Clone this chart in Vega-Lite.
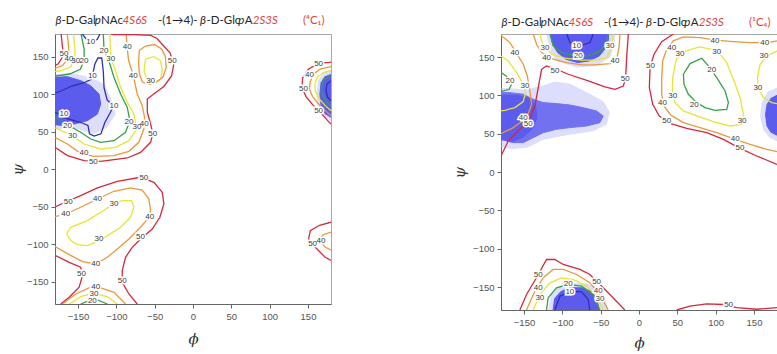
{
  "$schema": "https://vega.github.io/schema/vega-lite/v6.json",
  "background": "white",
  "padding": {"left": 10, "top": 14, "right": 0, "bottom": 0},
  "spacing": 120,
  "config": {
    "view": {"stroke": "#a8a8a8", "strokeWidth": 1},
    "axis": {
      "grid": false,
      "domainColor": "#666",
      "tickColor": "#666",
      "tickSize": 4,
      "labelColor": "#555",
      "labelFont": "Liberation Sans",
      "labelFontSize": 9.5,
      "labelPadding": 3,
      "titleFont": "DejaVu Serif",
      "titleFontStyle": "italic",
      "titleFontWeight": "normal",
      "titleFontSize": 15,
      "titleColor": "#333"
    },
    "text": {"font": "Liberation Sans"}
  },
  "datasets": {
    "titles": [
      {"panel": "L", "part": "prefix", "label": "β", "phi": -179.5},
      {"panel": "L", "part": "name", "label": "-D-Gal", "phi": -171.5},
      {"panel": "L", "part": "prefix", "label": "p", "phi": -128.3},
      {"panel": "L", "part": "name", "label": "NAc", "phi": -120},
      {"panel": "L", "part": "sulfate", "label": "4S6S", "phi": -91.8},
      {"panel": "L", "part": "name", "label": "-(1→4)-", "phi": -45.7},
      {"panel": "L", "part": "prefix", "label": "β", "phi": 9.1},
      {"panel": "L", "part": "name", "label": "-D-Glc", "phi": 17.6},
      {"panel": "L", "part": "prefix", "label": "p", "phi": 59.1},
      {"panel": "L", "part": "name", "label": "A", "phi": 67.6},
      {"panel": "L", "part": "sulfate", "label": "2S3S", "phi": 77.9},
      {"panel": "L", "part": "conformer", "label": "(⁴C₁)", "phi": 143.5},
      {"panel": "R", "part": "prefix", "label": "β", "phi": -179.5},
      {"panel": "R", "part": "name", "label": "-D-Gal", "phi": -171.5},
      {"panel": "R", "part": "prefix", "label": "p", "phi": -128.3},
      {"panel": "R", "part": "name", "label": "NAc", "phi": -120},
      {"panel": "R", "part": "sulfate", "label": "4S6S", "phi": -91.8},
      {"panel": "R", "part": "name", "label": "-(1→4)-", "phi": -45.7},
      {"panel": "R", "part": "prefix", "label": "β", "phi": 9.1},
      {"panel": "R", "part": "name", "label": "-D-Glc", "phi": 17.6},
      {"panel": "R", "part": "prefix", "label": "p", "phi": 59.1},
      {"panel": "R", "part": "name", "label": "A", "phi": 67.6},
      {"panel": "R", "part": "sulfate", "label": "2S3S", "phi": 77.9},
      {"panel": "R", "part": "conformer", "label": "(¹C₄)", "phi": 143.5}
    ],
    "left_halo": [
      {"cloud": "w", "phi": -180, "psi": 126.7}, {"cloud": "w", "phi": -155.2, "psi": 127}, {"cloud": "w", "phi": -133.5, "psi": 122.2}, {"cloud": "w", "phi": -116.1, "psi": 113.3}, {"cloud": "w", "phi": -107.4, "psi": 95.5}, {"cloud": "w", "phi": -100.9, "psi": 73.3}, {"cloud": "w", "phi": -111.7, "psi": 55.6}, {"cloud": "w", "phi": -129.2, "psi": 46.7}, {"cloud": "w", "phi": -150.8, "psi": 53.3}, {"cloud": "w", "phi": -180, "psi": 53.3},
      {"cloud": "e", "phi": 180, "psi": 132}, {"cloud": "e", "phi": 170, "psi": 128}, {"cloud": "e", "phi": 163, "psi": 118}, {"cloud": "e", "phi": 161, "psi": 100}, {"cloud": "e", "phi": 163, "psi": 82}, {"cloud": "e", "phi": 170, "psi": 70}, {"cloud": "e", "phi": 180, "psi": 64}
    ],
    "left_core": [
      {"cloud": "w", "phi": -180, "psi": 122.2}, {"cloud": "w", "phi": -163.8, "psi": 123.1}, {"cloud": "w", "phi": -146.5, "psi": 117.8}, {"cloud": "w", "phi": -133.5, "psi": 111.1}, {"cloud": "w", "phi": -122.6, "psi": 100}, {"cloud": "w", "phi": -120.4, "psi": 86.7}, {"cloud": "w", "phi": -124.7, "psi": 73.3}, {"cloud": "w", "phi": -137.8, "psi": 64.5}, {"cloud": "w", "phi": -155.2, "psi": 60}, {"cloud": "w", "phi": -168.2, "psi": 57.8}, {"cloud": "w", "phi": -180, "psi": 59.1},
      {"cloud": "e", "phi": 180, "psi": 126}, {"cloud": "e", "phi": 172, "psi": 123}, {"cloud": "e", "phi": 167, "psi": 115}, {"cloud": "e", "phi": 165.5, "psi": 100}, {"cloud": "e", "phi": 167, "psi": 85}, {"cloud": "e", "phi": 172, "psi": 74}, {"cloud": "e", "phi": 180, "psi": 69}
    ],
    "left_contours": [
      {"id": "a", "level": 10, "phi": -144.3, "psi": 180}, {"id": "a", "level": 10, "phi": -137.8, "psi": 171}, {"id": "a", "level": 10, "phi": -131.3, "psi": 169}, {"id": "a", "level": 10, "phi": -124.8, "psi": 173}, {"id": "a", "level": 10, "phi": -121.4, "psi": 180},
      {"id": "b", "level": 10, "phi": -180, "psi": 101}, {"id": "b", "level": 10, "phi": -172, "psi": 104}, {"id": "b", "level": 10, "phi": -160, "psi": 110}, {"id": "b", "level": 10, "phi": -142, "psi": 115}, {"id": "b", "level": 10, "phi": -132, "psi": 120}, {"id": "b", "level": 10, "phi": -128, "psi": 140}, {"id": "b", "level": 10, "phi": -124, "psi": 148}, {"id": "b", "level": 10, "phi": -119, "psi": 148}, {"id": "b", "level": 10, "phi": -117, "psi": 130}, {"id": "b", "level": 10, "phi": -116, "psi": 108}, {"id": "b", "level": 10, "phi": -112, "psi": 92}, {"id": "b", "level": 10, "phi": -104, "psi": 84}, {"id": "b", "level": 10, "phi": -108, "psi": 75}, {"id": "b", "level": 10, "phi": -115, "psi": 62}, {"id": "b", "level": 10, "phi": -120, "psi": 47}, {"id": "b", "level": 10, "phi": -129, "psi": 44}, {"id": "b", "level": 10, "phi": -135, "psi": 47}, {"id": "b", "level": 10, "phi": -137, "psi": 58}, {"id": "b", "level": 10, "phi": -146, "psi": 62}, {"id": "b", "level": 10, "phi": -164, "psi": 67}, {"id": "b", "level": 10, "phi": -172, "psi": 71}, {"id": "b", "level": 10, "phi": -180, "psi": 76},
      {"id": "c", "level": 20, "phi": -146, "psi": 180}, {"id": "c", "level": 20, "phi": -142, "psi": 160}, {"id": "c", "level": 20, "phi": -142, "psi": 145}, {"id": "c", "level": 20, "phi": -147, "psi": 133}, {"id": "c", "level": 20, "phi": -160, "psi": 127}, {"id": "c", "level": 20, "phi": -172, "psi": 125}, {"id": "c", "level": 20, "phi": -180, "psi": 124},
      {"id": "d", "level": 30, "phi": -156, "psi": 180}, {"id": "d", "level": 30, "phi": -154, "psi": 160}, {"id": "d", "level": 30, "phi": -154, "psi": 146}, {"id": "d", "level": 30, "phi": -160, "psi": 136}, {"id": "d", "level": 30, "phi": -172, "psi": 131}, {"id": "d", "level": 30, "phi": -180, "psi": 130},
      {"id": "e", "level": 40, "phi": -164, "psi": 180}, {"id": "e", "level": 40, "phi": -162, "psi": 160}, {"id": "e", "level": 40, "phi": -163, "psi": 147}, {"id": "e", "level": 40, "phi": -170, "psi": 138}, {"id": "e", "level": 40, "phi": -180, "psi": 134},
      {"id": "f", "level": 50, "phi": -172, "psi": 180}, {"id": "f", "level": 50, "phi": -170, "psi": 160}, {"id": "f", "level": 50, "phi": -171, "psi": 148}, {"id": "f", "level": 50, "phi": -176, "psi": 140}, {"id": "f", "level": 50, "phi": -180, "psi": 138},
      {"id": "g", "level": 20, "phi": -180, "psi": 69}, {"id": "g", "level": 20, "phi": -164, "psi": 59}, {"id": "g", "level": 20, "phi": -146.5, "psi": 49}, {"id": "g", "level": 20, "phi": -133.5, "psi": 40}, {"id": "g", "level": 20, "phi": -120.4, "psi": 35.6}, {"id": "g", "level": 20, "phi": -103, "psi": 37.8}, {"id": "g", "level": 20, "phi": -88, "psi": 49}, {"id": "g", "level": 20, "phi": -82.3, "psi": 64.5}, {"id": "g", "level": 20, "phi": -85.7, "psi": 82}, {"id": "g", "level": 20, "phi": -94.4, "psi": 100}, {"id": "g", "level": 20, "phi": -103, "psi": 122}, {"id": "g", "level": 20, "phi": -110, "psi": 145}, {"id": "g", "level": 20, "phi": -116, "psi": 158}, {"id": "g", "level": 20, "phi": -117, "psi": 180},
      {"id": "h", "level": 30, "phi": -180, "psi": 55}, {"id": "h", "level": 30, "phi": -157.3, "psi": 44.5}, {"id": "h", "level": 30, "phi": -142.2, "psi": 33.3}, {"id": "h", "level": 30, "phi": -120.4, "psi": 26.7}, {"id": "h", "level": 30, "phi": -101, "psi": 28.9}, {"id": "h", "level": 30, "phi": -83.6, "psi": 37.8}, {"id": "h", "level": 30, "phi": -73.6, "psi": 53.3}, {"id": "h", "level": 30, "phi": -77.1, "psi": 73.3}, {"id": "h", "level": 30, "phi": -85.7, "psi": 88.9}, {"id": "h", "level": 30, "phi": -94.4, "psi": 108.9}, {"id": "h", "level": 30, "phi": -101, "psi": 131}, {"id": "h", "level": 30, "phi": -107, "psi": 147}, {"id": "h", "level": 30, "phi": -108, "psi": 166}, {"id": "h", "level": 30, "phi": -108.5, "psi": 180},
      {"id": "i", "level": 40, "phi": -180, "psi": 42}, {"id": "i", "level": 40, "phi": -163.8, "psi": 33.3}, {"id": "i", "level": 40, "phi": -146.5, "psi": 20.9}, {"id": "i", "level": 40, "phi": -129.2, "psi": 16.9}, {"id": "i", "level": 40, "phi": -103.1, "psi": 17.8}, {"id": "i", "level": 40, "phi": -83.6, "psi": 23.6}, {"id": "i", "level": 40, "phi": -70.6, "psi": 35.6}, {"id": "i", "level": 40, "phi": -64.1, "psi": 53.3}, {"id": "i", "level": 40, "phi": -63.2, "psi": 68.9}, {"id": "i", "level": 40, "phi": -66.2, "psi": 84.5}, {"id": "i", "level": 40, "phi": -72.7, "psi": 100}, {"id": "i", "level": 40, "phi": -78, "psi": 125}, {"id": "i", "level": 40, "phi": -84, "psi": 145}, {"id": "i", "level": 40, "phi": -86, "psi": 162}, {"id": "i", "level": 40, "phi": -87, "psi": 180},
      {"id": "j", "level": 50, "phi": -180, "psi": 29}, {"id": "j", "level": 50, "phi": -163.8, "psi": 17.8}, {"id": "j", "level": 50, "phi": -142.2, "psi": 11.1}, {"id": "j", "level": 50, "phi": -120.4, "psi": 10.2}, {"id": "j", "level": 50, "phi": -85.7, "psi": 14.7}, {"id": "j", "level": 50, "phi": -68.4, "psi": 22.2}, {"id": "j", "level": 50, "phi": -55.3, "psi": 35.6}, {"id": "j", "level": 50, "phi": -52.4, "psi": 47.5}, {"id": "j", "level": 50, "phi": -55.3, "psi": 60}, {"id": "j", "level": 50, "phi": -59.6, "psi": 75.6}, {"id": "j", "level": 50, "phi": -59.6, "psi": 93.3}, {"id": "j", "level": 50, "phi": -50, "psi": 101}, {"id": "j", "level": 50, "phi": -38, "psi": 110}, {"id": "j", "level": 50, "phi": -28, "psi": 124}, {"id": "j", "level": 50, "phi": -25, "psi": 140}, {"id": "j", "level": 50, "phi": -30, "psi": 155}, {"id": "j", "level": 50, "phi": -40, "psi": 166}, {"id": "j", "level": 50, "phi": -47, "psi": 174}, {"id": "j", "level": 50, "phi": -55, "psi": 178.2}, {"id": "j", "level": 50, "phi": -77, "psi": 179.2}, {"id": "j", "level": 50, "phi": -103, "psi": 179.2}, {"id": "j", "level": 50, "phi": -107.4, "psi": 180},
      {"id": "k", "level": 30, "phi": -61.8, "psi": 146.7}, {"id": "k", "level": 30, "phi": -51, "psi": 149.8}, {"id": "k", "level": 30, "phi": -42.3, "psi": 144.5}, {"id": "k", "level": 30, "phi": -40.1, "psi": 131.1}, {"id": "k", "level": 30, "phi": -42.3, "psi": 120}, {"id": "k", "level": 30, "phi": -51, "psi": 115.6}, {"id": "k", "level": 30, "phi": -59.6, "psi": 117.8}, {"id": "k", "level": 30, "phi": -63.9, "psi": 131.1}, {"id": "k", "level": 30, "phi": -61.8, "psi": 146.7},
      {"id": "l", "level": 40, "phi": -70, "psi": 158}, {"id": "l", "level": 40, "phi": -62, "psi": 164}, {"id": "l", "level": 40, "phi": -50, "psi": 166}, {"id": "l", "level": 40, "phi": -41, "psi": 160}, {"id": "l", "level": 40, "phi": -36, "psi": 150}, {"id": "l", "level": 40, "phi": -35, "psi": 135}, {"id": "l", "level": 40, "phi": -39, "psi": 123}, {"id": "l", "level": 40, "phi": -47, "psi": 116}, {"id": "l", "level": 40, "phi": -57, "psi": 113}, {"id": "l", "level": 40, "phi": -66, "psi": 116}, {"id": "l", "level": 40, "phi": -70, "psi": 127}, {"id": "l", "level": 40, "phi": -71, "psi": 142}, {"id": "l", "level": 40, "phi": -70, "psi": 158},
      {"id": "m", "level": 50, "phi": -180, "psi": -50.6}, {"id": "m", "level": 50, "phi": -163.8, "psi": -43}, {"id": "m", "level": 50, "phi": -146.5, "psi": -35.5}, {"id": "m", "level": 50, "phi": -124.7, "psi": -25.3}, {"id": "m", "level": 50, "phi": -98.7, "psi": -16.4}, {"id": "m", "level": 50, "phi": -68.4, "psi": -11}, {"id": "m", "level": 50, "phi": -51, "psi": -17.7}, {"id": "m", "level": 50, "phi": -40.1, "psi": -31}, {"id": "m", "level": 50, "phi": -38, "psi": -46.6}, {"id": "m", "level": 50, "phi": -43.2, "psi": -64.4}, {"id": "m", "level": 50, "phi": -53.2, "psi": -80}, {"id": "m", "level": 50, "phi": -68.4, "psi": -93.3}, {"id": "m", "level": 50, "phi": -79.3, "psi": -104.4}, {"id": "m", "level": 50, "phi": -88, "psi": -117.7}, {"id": "m", "level": 50, "phi": -92.3, "psi": -135.5}, {"id": "m", "level": 50, "phi": -92.3, "psi": -151}, {"id": "m", "level": 50, "phi": -83.6, "psi": -166.6}, {"id": "m", "level": 50, "phi": -72.7, "psi": -180},
      {"id": "n", "level": 40, "phi": -180, "psi": -63.5}, {"id": "n", "level": 40, "phi": -166, "psi": -60}, {"id": "n", "level": 40, "phi": -148.7, "psi": -52}, {"id": "n", "level": 40, "phi": -124.7, "psi": -40}, {"id": "n", "level": 40, "phi": -103.1, "psi": -29.7}, {"id": "n", "level": 40, "phi": -81.4, "psi": -25.3}, {"id": "n", "level": 40, "phi": -66.2, "psi": -28}, {"id": "n", "level": 40, "phi": -57.5, "psi": -40}, {"id": "n", "level": 40, "phi": -55.3, "psi": -55.5}, {"id": "n", "level": 40, "phi": -57.5, "psi": -64.4}, {"id": "n", "level": 40, "phi": -68.4, "psi": -77.7}, {"id": "n", "level": 40, "phi": -83.6, "psi": -93.3}, {"id": "n", "level": 40, "phi": -98.7, "psi": -106.6}, {"id": "n", "level": 40, "phi": -111.7, "psi": -117.7}, {"id": "n", "level": 40, "phi": -126.9, "psi": -126.6}, {"id": "n", "level": 40, "phi": -144.2, "psi": -123.5}, {"id": "n", "level": 40, "phi": -161.5, "psi": -114.2}, {"id": "n", "level": 40, "phi": -180, "psi": -103.5},
      {"id": "o", "level": 30, "phi": -164.9, "psi": -86.6}, {"id": "o", "level": 30, "phi": -159.4, "psi": -77.7}, {"id": "o", "level": 30, "phi": -137.8, "psi": -68.8}, {"id": "o", "level": 30, "phi": -120.4, "psi": -57.7}, {"id": "o", "level": 30, "phi": -103.1, "psi": -46.6}, {"id": "o", "level": 30, "phi": -92.3, "psi": -42.2}, {"id": "o", "level": 30, "phi": -80.1, "psi": -42.2}, {"id": "o", "level": 30, "phi": -77.1, "psi": -50.2}, {"id": "o", "level": 30, "phi": -81.4, "psi": -64.4}, {"id": "o", "level": 30, "phi": -94.4, "psi": -77.7}, {"id": "o", "level": 30, "phi": -111.7, "psi": -88.8}, {"id": "o", "level": 30, "phi": -124.7, "psi": -96.4}, {"id": "o", "level": 30, "phi": -137.8, "psi": -102.2}, {"id": "o", "level": 30, "phi": -150.8, "psi": -100.8}, {"id": "o", "level": 30, "phi": -159.4, "psi": -95.5}, {"id": "o", "level": 30, "phi": -164.9, "psi": -86.6},
      {"id": "p", "level": 50, "phi": -180, "psi": -115}, {"id": "p", "level": 50, "phi": -161.5, "psi": -124.4}, {"id": "p", "level": 50, "phi": -146.5, "psi": -131}, {"id": "p", "level": 50, "phi": -144.2, "psi": -142.2}, {"id": "p", "level": 50, "phi": -148.5, "psi": -157.7}, {"id": "p", "level": 50, "phi": -161.5, "psi": -171}, {"id": "p", "level": 50, "phi": -172.5, "psi": -180},
      {"id": "q", "level": 40, "phi": -170.3, "psi": -180}, {"id": "q", "level": 40, "phi": -152.9, "psi": -166.6}, {"id": "q", "level": 40, "phi": -135.6, "psi": -158.6}, {"id": "q", "level": 40, "phi": -120.4, "psi": -158.6}, {"id": "q", "level": 40, "phi": -103.1, "psi": -164.4}, {"id": "q", "level": 40, "phi": -87.9, "psi": -180},
      {"id": "r", "level": 30, "phi": -161.5, "psi": -180}, {"id": "r", "level": 30, "phi": -146.5, "psi": -170.2}, {"id": "r", "level": 30, "phi": -129.2, "psi": -165.7}, {"id": "r", "level": 30, "phi": -111.7, "psi": -170.2}, {"id": "r", "level": 30, "phi": -98.7, "psi": -180},
      {"id": "s", "level": 20, "phi": -146.5, "psi": -180}, {"id": "s", "level": 20, "phi": -135.6, "psi": -175.5}, {"id": "s", "level": 20, "phi": -124.7, "psi": -174.6}, {"id": "s", "level": 20, "phi": -111.7, "psi": -180},
      {"id": "t", "level": 50, "phi": 180, "psi": 142.5}, {"id": "t", "level": 50, "phi": 177.7, "psi": 142.2}, {"id": "t", "level": 50, "phi": 163.8, "psi": 140.9}, {"id": "t", "level": 50, "phi": 150.8, "psi": 133.3}, {"id": "t", "level": 50, "phi": 143, "psi": 121.3}, {"id": "t", "level": 50, "phi": 142.2, "psi": 108.9}, {"id": "t", "level": 50, "phi": 147.4, "psi": 96.5}, {"id": "t", "level": 50, "phi": 156, "psi": 85.8}, {"id": "t", "level": 50, "phi": 167.3, "psi": 74.2}, {"id": "t", "level": 50, "phi": 177.7, "psi": 62.2}, {"id": "t", "level": 50, "phi": 180, "psi": 60},
      {"id": "u", "level": 40, "phi": 180, "psi": 136.5}, {"id": "u", "level": 40, "phi": 166, "psi": 133.3}, {"id": "u", "level": 40, "phi": 157.4, "psi": 126.7}, {"id": "u", "level": 40, "phi": 153, "psi": 116.9}, {"id": "u", "level": 40, "phi": 151.7, "psi": 106.7}, {"id": "u", "level": 40, "phi": 156, "psi": 96.5}, {"id": "u", "level": 40, "phi": 163.8, "psi": 86.7}, {"id": "u", "level": 40, "phi": 172.5, "psi": 77.8}, {"id": "u", "level": 40, "phi": 180, "psi": 71.1},
      {"id": "v", "level": 30, "phi": 180, "psi": 131.1}, {"id": "v", "level": 30, "phi": 170.6, "psi": 128.9}, {"id": "v", "level": 30, "phi": 162, "psi": 122.2}, {"id": "v", "level": 30, "phi": 159, "psi": 113.3}, {"id": "v", "level": 30, "phi": 159.5, "psi": 104.5}, {"id": "v", "level": 30, "phi": 164.7, "psi": 93.3}, {"id": "v", "level": 30, "phi": 172.5, "psi": 84.5}, {"id": "v", "level": 30, "phi": 180, "psi": 77.8},
      {"id": "w", "level": 20, "phi": 180, "psi": 124.5}, {"id": "w", "level": 20, "phi": 171.6, "psi": 120}, {"id": "w", "level": 20, "phi": 167.3, "psi": 111.1}, {"id": "w", "level": 20, "phi": 168.2, "psi": 100}, {"id": "w", "level": 20, "phi": 174.7, "psi": 88.9}, {"id": "w", "level": 20, "phi": 180, "psi": 84.5},
      {"id": "x", "level": 10, "phi": 180, "psi": 117.8}, {"id": "x", "level": 10, "phi": 174.7, "psi": 113.3}, {"id": "x", "level": 10, "phi": 173.5, "psi": 104.5}, {"id": "x", "level": 10, "phi": 175.6, "psi": 95.6}, {"id": "x", "level": 10, "phi": 180, "psi": 91.1},
      {"id": "y", "level": 50, "phi": 180, "psi": -71}, {"id": "y", "level": 50, "phi": 165, "psi": -75}, {"id": "y", "level": 50, "phi": 153, "psi": -82.2}, {"id": "y", "level": 50, "phi": 150.8, "psi": -93.3}, {"id": "y", "level": 50, "phi": 159.5, "psi": -104.4}, {"id": "y", "level": 50, "phi": 172.5, "psi": -117.8}, {"id": "y", "level": 50, "phi": 180, "psi": -122},
      {"id": "z", "level": 40, "phi": 180, "psi": -84}, {"id": "z", "level": 40, "phi": 169, "psi": -88}, {"id": "z", "level": 40, "phi": 166, "psi": -96}, {"id": "z", "level": 40, "phi": 172, "psi": -104}, {"id": "z", "level": 40, "phi": 180, "psi": -108}
    ],
    "left_labels": [
      {"level": 50, "phi": -168.2, "psi": 153.3}, {"level": 40, "phi": -161.7, "psi": 146.7}, {"level": 30, "phi": -153, "psi": 144.5}, {"level": 20, "phi": -142.2, "psi": 144.5},
      {"level": 10, "phi": -133.5, "psi": 170}, {"level": 10, "phi": -131.3, "psi": 124.5}, {"level": 20, "phi": -116.1, "psi": 157.8}, {"level": 30, "phi": -107.4, "psi": 146.7},
      {"level": 40, "phi": -85.7, "psi": 162.2}, {"level": 40, "phi": -77.9, "psi": 124.5}, {"level": 30, "phi": -55.3, "psi": 117.8}, {"level": 50, "phi": -27, "psi": 144.5},
      {"level": 10, "phi": -103.1, "psi": 84.5}, {"level": 20, "phi": -83.6, "psi": 62.2}, {"level": 30, "phi": -73, "psi": 55.6}, {"level": 40, "phi": -63.5, "psi": 60}, {"level": 50, "phi": -52.5, "psi": 46.7},
      {"level": 10, "phi": -168.2, "psi": 73.3}, {"level": 20, "phi": -163.8, "psi": 57.8}, {"level": 30, "phi": -157.3, "psi": 44.5}, {"level": 40, "phi": -142.2, "psi": 21}, {"level": 50, "phi": -130, "psi": 10},
      {"level": 50, "phi": -162.8, "psi": -43.5}, {"level": 40, "phi": -166, "psi": -60}, {"level": 40, "phi": -124.7, "psi": -40}, {"level": 30, "phi": -103.1, "psi": -46.6}, {"level": 50, "phi": -64.1, "psi": -12},
      {"level": 40, "phi": -56.5, "psi": -63.5}, {"level": 50, "phi": -68.4, "psi": -91}, {"level": 30, "phi": -122.6, "psi": -93.3}, {"level": 40, "phi": -126.9, "psi": -126.6}, {"level": 50, "phi": -145.5, "psi": -140},
      {"level": 50, "phi": -92.3, "psi": -148.9}, {"level": 40, "phi": -126.9, "psi": -157.7}, {"level": 30, "phi": -129.2, "psi": -166.6}, {"level": 20, "phi": -131.3, "psi": -175.5},
      {"level": 50, "phi": 163.8, "psi": 140.5}, {"level": 40, "phi": 152, "psi": 125}, {"level": 50, "phi": 144, "psi": 106.7}, {"level": 50, "phi": 163.8, "psi": 77.8},
      {"level": 40, "phi": 167, "psi": -95.5}, {"level": 50, "phi": 156, "psi": -100}
    ],
    "right_halo": [
      {"cloud": "band", "phi": -180, "psi": 110}, {"cloud": "band", "phi": -150, "psi": 108}, {"cloud": "band", "phi": -128, "psi": 112}, {"cloud": "band", "phi": -110, "psi": 118}, {"cloud": "band", "phi": -90, "psi": 115}, {"cloud": "band", "phi": -66, "psi": 103}, {"cloud": "band", "phi": -46, "psi": 92}, {"cloud": "band", "phi": -38, "psi": 78}, {"cloud": "band", "phi": -42, "psi": 62}, {"cloud": "band", "phi": -60, "psi": 53}, {"cloud": "band", "phi": -95, "psi": 48}, {"cloud": "band", "phi": -125, "psi": 42}, {"cloud": "band", "phi": -145, "psi": 32}, {"cloud": "band", "phi": -165, "psi": 30}, {"cloud": "band", "phi": -180, "psi": 32},
      {"cloud": "top", "phi": -120.6, "psi": 180}, {"cloud": "top", "phi": -116.3, "psi": 158}, {"cloud": "top", "phi": -107.6, "psi": 144.9}, {"cloud": "top", "phi": -81.5, "psi": 136.2}, {"cloud": "top", "phi": -55.4, "psi": 138.4}, {"cloud": "top", "phi": -38, "psi": 149.3}, {"cloud": "top", "phi": -31.5, "psi": 166.6}, {"cloud": "top", "phi": -31.5, "psi": 180},
      {"cloud": "bottom", "phi": -118, "psi": -180}, {"cloud": "bottom", "phi": -115, "psi": -160}, {"cloud": "bottom", "phi": -105, "psi": -150}, {"cloud": "bottom", "phi": -90, "psi": -145}, {"cloud": "bottom", "phi": -70, "psi": -145}, {"cloud": "bottom", "phi": -55, "psi": -150}, {"cloud": "bottom", "phi": -45, "psi": -162}, {"cloud": "bottom", "phi": -40, "psi": -180},
      {"cloud": "east", "phi": 180, "psi": 110}, {"cloud": "east", "phi": 168, "psi": 105}, {"cloud": "east", "phi": 160, "psi": 90}, {"cloud": "east", "phi": 158, "psi": 72}, {"cloud": "east", "phi": 162, "psi": 55}, {"cloud": "east", "phi": 170, "psi": 45}, {"cloud": "east", "phi": 180, "psi": 40}
    ],
    "right_band": [
      {"cloud": "band", "phi": -180, "psi": 103.5}, {"cloud": "band", "phi": -168.4, "psi": 103.5}, {"cloud": "band", "phi": -151, "psi": 101.4}, {"cloud": "band", "phi": -138, "psi": 94.8}, {"cloud": "band", "phi": -125, "psi": 90.5}, {"cloud": "band", "phi": -107.6, "psi": 89.2}, {"cloud": "band", "phi": -90.2, "psi": 87.4}, {"cloud": "band", "phi": -72.8, "psi": 83.9}, {"cloud": "band", "phi": -55.4, "psi": 79.6}, {"cloud": "band", "phi": -46.7, "psi": 73.1}, {"cloud": "band", "phi": -51, "psi": 64.4}, {"cloud": "band", "phi": -68.4, "psi": 60}, {"cloud": "band", "phi": -90.2, "psi": 57.9}, {"cloud": "band", "phi": -107.6, "psi": 55.7}, {"cloud": "band", "phi": -125, "psi": 51.3}, {"cloud": "band", "phi": -138, "psi": 44.8}, {"cloud": "band", "phi": -151, "psi": 38.3}, {"cloud": "band", "phi": -164.1, "psi": 38.3}, {"cloud": "band", "phi": -172.8, "psi": 40.4}, {"cloud": "band", "phi": -180, "psi": 44.8}
    ],
    "right_core": [
      {"cloud": "west", "phi": -180, "psi": 100}, {"cloud": "west", "phi": -160, "psi": 100}, {"cloud": "west", "phi": -145, "psi": 97}, {"cloud": "west", "phi": -135, "psi": 88}, {"cloud": "west", "phi": -133, "psi": 70}, {"cloud": "west", "phi": -140, "psi": 55}, {"cloud": "west", "phi": -152, "psi": 45}, {"cloud": "west", "phi": -165, "psi": 40}, {"cloud": "west", "phi": -180, "psi": 42},
      {"cloud": "top", "phi": -114.9, "psi": 180}, {"cloud": "top", "phi": -112.7, "psi": 166.6}, {"cloud": "top", "phi": -106.2, "psi": 155.8}, {"cloud": "top", "phi": -95.3, "psi": 147.1}, {"cloud": "top", "phi": -80.1, "psi": 142.7}, {"cloud": "top", "phi": -64.9, "psi": 144.9}, {"cloud": "top", "phi": -51.8, "psi": 151.4}, {"cloud": "top", "phi": -43.1, "psi": 162.3}, {"cloud": "top", "phi": -39.7, "psi": 173.2}, {"cloud": "top", "phi": -39.7, "psi": 180},
      {"cloud": "bottom", "phi": -112, "psi": -180}, {"cloud": "bottom", "phi": -110, "psi": -165}, {"cloud": "bottom", "phi": -102, "psi": -156}, {"cloud": "bottom", "phi": -90, "psi": -151}, {"cloud": "bottom", "phi": -75, "psi": -151}, {"cloud": "bottom", "phi": -62, "psi": -156}, {"cloud": "bottom", "phi": -55, "psi": -165}, {"cloud": "bottom", "phi": -52, "psi": -180},
      {"cloud": "east", "phi": 180, "psi": 100}, {"cloud": "east", "phi": 172, "psi": 96}, {"cloud": "east", "phi": 167, "psi": 88}, {"cloud": "east", "phi": 165, "psi": 75}, {"cloud": "east", "phi": 167, "psi": 60}, {"cloud": "east", "phi": 172, "psi": 52}, {"cloud": "east", "phi": 180, "psi": 48}
    ],
    "right_contours": [
      {"id": "a", "level": 50, "phi": -180, "psi": 20.9}, {"id": "a", "level": 50, "phi": -170.6, "psi": 40.4}, {"id": "a", "level": 50, "phi": -153.2, "psi": 57.9}, {"id": "a", "level": 50, "phi": -142.3, "psi": 70.9}, {"id": "a", "level": 50, "phi": -135.8, "psi": 86.1}, {"id": "a", "level": 50, "phi": -131.4, "psi": 110.1}, {"id": "a", "level": 50, "phi": -127.1, "psi": 134}, {"id": "a", "level": 50, "phi": -120.6, "psi": 138.4}, {"id": "a", "level": 50, "phi": -107.5, "psi": 134}, {"id": "a", "level": 50, "phi": -92.3, "psi": 127.5}, {"id": "a", "level": 50, "phi": -66.2, "psi": 118.8}, {"id": "a", "level": 50, "phi": -44.5, "psi": 111}, {"id": "a", "level": 50, "phi": -31.3, "psi": 107.9}, {"id": "a", "level": 50, "phi": -20.4, "psi": 112.2}, {"id": "a", "level": 50, "phi": -17.4, "psi": 123.1}, {"id": "a", "level": 50, "phi": -16.1, "psi": 149.2}, {"id": "a", "level": 50, "phi": -13.9, "psi": 180},
      {"id": "b", "level": 40, "phi": -180, "psi": 178}, {"id": "b", "level": 40, "phi": -168.4, "psi": 168.8}, {"id": "b", "level": 40, "phi": -161, "psi": 157}, {"id": "b", "level": 40, "phi": -151, "psi": 140.5}, {"id": "b", "level": 40, "phi": -145.7, "psi": 125.3}, {"id": "b", "level": 40, "phi": -142.3, "psi": 105.7}, {"id": "b", "level": 40, "phi": -140.1, "psi": 88.3}, {"id": "b", "level": 40, "phi": -144.5, "psi": 76.1}, {"id": "b", "level": 40, "phi": -153.2, "psi": 65.7}, {"id": "b", "level": 40, "phi": -164, "psi": 57.9}, {"id": "b", "level": 40, "phi": -174.9, "psi": 52.6}, {"id": "b", "level": 40, "phi": -180, "psi": 50},
      {"id": "c", "level": 30, "phi": -180, "psi": 151.4}, {"id": "c", "level": 30, "phi": -170.6, "psi": 144.9}, {"id": "c", "level": 30, "phi": -159.7, "psi": 129.7}, {"id": "c", "level": 30, "phi": -151, "psi": 114.4}, {"id": "c", "level": 30, "phi": -148, "psi": 103.5}, {"id": "c", "level": 30, "phi": -151, "psi": 91.8}, {"id": "c", "level": 30, "phi": -161.9, "psi": 84}, {"id": "c", "level": 30, "phi": -174.9, "psi": 80.5}, {"id": "c", "level": 30, "phi": -180, "psi": 79.6},
      {"id": "d", "level": 20, "phi": -180, "psi": 129.7}, {"id": "d", "level": 20, "phi": -171.5, "psi": 124}, {"id": "d", "level": 20, "phi": -165.8, "psi": 115.3}, {"id": "d", "level": 20, "phi": -169.3, "psi": 107.9}, {"id": "d", "level": 20, "phi": -180, "psi": 104.9},
      {"id": "e", "level": 40, "phi": -137.9, "psi": 180}, {"id": "e", "level": 40, "phi": -133.6, "psi": 166.6}, {"id": "e", "level": 40, "phi": -127.1, "psi": 155.8}, {"id": "e", "level": 40, "phi": -111.8, "psi": 147.1}, {"id": "e", "level": 40, "phi": -94.4, "psi": 142.7}, {"id": "e", "level": 40, "phi": -74.8, "psi": 139.7}, {"id": "e", "level": 40, "phi": -57.4, "psi": 139.7}, {"id": "e", "level": 40, "phi": -37.8, "psi": 141.4}, {"id": "e", "level": 40, "phi": -29.1, "psi": 147.1}, {"id": "e", "level": 40, "phi": -26.1, "psi": 162.3}, {"id": "e", "level": 40, "phi": -24.8, "psi": 180},
      {"id": "f", "level": 30, "phi": -129.2, "psi": 180}, {"id": "f", "level": 30, "phi": -124.9, "psi": 164.5}, {"id": "f", "level": 30, "phi": -114, "psi": 153.6}, {"id": "f", "level": 30, "phi": -96.6, "psi": 148.4}, {"id": "f", "level": 30, "phi": -74.8, "psi": 145.8}, {"id": "f", "level": 30, "phi": -57.4, "psi": 145.8}, {"id": "f", "level": 30, "phi": -42.2, "psi": 149.2}, {"id": "f", "level": 30, "phi": -35.7, "psi": 162.3}, {"id": "f", "level": 30, "phi": -33.5, "psi": 180},
      {"id": "g", "level": 20, "phi": -116.2, "psi": 180}, {"id": "g", "level": 20, "phi": -111.8, "psi": 164.5}, {"id": "g", "level": 20, "phi": -100.9, "psi": 155.8}, {"id": "g", "level": 20, "phi": -83.5, "psi": 151.4}, {"id": "g", "level": 20, "phi": -66.1, "psi": 151.4}, {"id": "g", "level": 20, "phi": -50.9, "psi": 157.9}, {"id": "g", "level": 20, "phi": -42.2, "psi": 168.8}, {"id": "g", "level": 20, "phi": -40, "psi": 180},
      {"id": "h", "level": 10, "phi": -94.4, "psi": 180}, {"id": "h", "level": 10, "phi": -90.1, "psi": 168.8}, {"id": "h", "level": 10, "phi": -77, "psi": 164.5}, {"id": "h", "level": 10, "phi": -64, "psi": 168.8}, {"id": "h", "level": 10, "phi": -59.7, "psi": 180},
      {"id": "i", "level": 50, "phi": -155.4, "psi": -180}, {"id": "i", "level": 50, "phi": -146.7, "psi": -159.8}, {"id": "i", "level": 50, "phi": -133.7, "psi": -138}, {"id": "i", "level": 50, "phi": -120.6, "psi": -114.1}, {"id": "i", "level": 50, "phi": -109.7, "psi": -114.1}, {"id": "i", "level": 50, "phi": -98.8, "psi": -120.6}, {"id": "i", "level": 50, "phi": -77.1, "psi": -127.1}, {"id": "i", "level": 50, "phi": -64.1, "psi": -133.7}, {"id": "i", "level": 50, "phi": -51, "psi": -146.7}, {"id": "i", "level": 50, "phi": -38, "psi": -159.8}, {"id": "i", "level": 50, "phi": -18.5, "psi": -180},
      {"id": "j", "level": 40, "phi": -146.7, "psi": -180}, {"id": "j", "level": 40, "phi": -138, "psi": -159.8}, {"id": "j", "level": 40, "phi": -125, "psi": -138}, {"id": "j", "level": 40, "phi": -112, "psi": -127.1}, {"id": "j", "level": 40, "phi": -98.8, "psi": -127.1}, {"id": "j", "level": 40, "phi": -81.4, "psi": -133.7}, {"id": "j", "level": 40, "phi": -64.1, "psi": -144.5}, {"id": "j", "level": 40, "phi": -51, "psi": -159.8}, {"id": "j", "level": 40, "phi": -40.2, "psi": -180},
      {"id": "k", "level": 30, "phi": -138, "psi": -180}, {"id": "k", "level": 30, "phi": -129.3, "psi": -159.8}, {"id": "k", "level": 30, "phi": -116.3, "psi": -144.5}, {"id": "k", "level": 30, "phi": -101, "psi": -138}, {"id": "k", "level": 30, "phi": -85.8, "psi": -140.2}, {"id": "k", "level": 30, "phi": -68.4, "psi": -148.9}, {"id": "k", "level": 30, "phi": -55.3, "psi": -162}, {"id": "k", "level": 30, "phi": -46.6, "psi": -180},
      {"id": "l", "level": 20, "phi": -120.6, "psi": -180}, {"id": "l", "level": 20, "phi": -118.5, "psi": -164}, {"id": "l", "level": 20, "phi": -107.6, "psi": -151}, {"id": "l", "level": 20, "phi": -92.3, "psi": -146.7}, {"id": "l", "level": 20, "phi": -74.9, "psi": -148.9}, {"id": "l", "level": 20, "phi": -59.7, "psi": -159.8}, {"id": "l", "level": 20, "phi": -51, "psi": -180},
      {"id": "m", "level": 10, "phi": -109.7, "psi": -180}, {"id": "m", "level": 10, "phi": -103.2, "psi": -162}, {"id": "m", "level": 10, "phi": -90.2, "psi": -155.4}, {"id": "m", "level": 10, "phi": -75, "psi": -156.3}, {"id": "m", "level": 10, "phi": -66.3, "psi": -166.2}, {"id": "m", "level": 10, "phi": -64.1, "psi": -180},
      {"id": "n", "level": 50, "phi": 49, "psi": -180}, {"id": "n", "level": 50, "phi": 66.6, "psi": -175}, {"id": "n", "level": 50, "phi": 88.3, "psi": -172}, {"id": "n", "level": 50, "phi": 110, "psi": -172.8}, {"id": "n", "level": 50, "phi": 127.5, "psi": -177}, {"id": "n", "level": 50, "phi": 153.6, "psi": -179}, {"id": "n", "level": 50, "phi": 180, "psi": -177},
      {"id": "o", "level": 20, "phi": 57.9, "psi": 127.5}, {"id": "o", "level": 20, "phi": 66.6, "psi": 141.4}, {"id": "o", "level": 20, "phi": 81.8, "psi": 148.4}, {"id": "o", "level": 20, "phi": 90.5, "psi": 138.4}, {"id": "o", "level": 20, "phi": 101.4, "psi": 123.1}, {"id": "o", "level": 20, "phi": 112.3, "psi": 105.7}, {"id": "o", "level": 20, "phi": 116.6, "psi": 90.5}, {"id": "o", "level": 20, "phi": 114.4, "psi": 81.8}, {"id": "o", "level": 20, "phi": 99.2, "psi": 80.5}, {"id": "o", "level": 20, "phi": 86.2, "psi": 83.9}, {"id": "o", "level": 20, "phi": 75.3, "psi": 90.5}, {"id": "o", "level": 20, "phi": 64.4, "psi": 101.4}, {"id": "o", "level": 20, "phi": 58.7, "psi": 114.4}, {"id": "o", "level": 20, "phi": 57.9, "psi": 127.5},
      {"id": "p", "level": 30, "phi": 48.6, "psi": 147.1}, {"id": "p", "level": 30, "phi": 61.6, "psi": 158}, {"id": "p", "level": 30, "phi": 79, "psi": 163.2}, {"id": "p", "level": 30, "phi": 101.4, "psi": 158.8}, {"id": "p", "level": 30, "phi": 114.4, "psi": 142.7}, {"id": "p", "level": 30, "phi": 124, "psi": 118.8}, {"id": "p", "level": 30, "phi": 131.8, "psi": 97}, {"id": "p", "level": 30, "phi": 136.2, "psi": 75.3}, {"id": "p", "level": 30, "phi": 134, "psi": 62.2}, {"id": "p", "level": 30, "phi": 118.8, "psi": 60}, {"id": "p", "level": 30, "phi": 97, "psi": 65.7}, {"id": "p", "level": 30, "phi": 75.3, "psi": 73.1}, {"id": "p", "level": 30, "phi": 57.9, "psi": 79.6}, {"id": "p", "level": 30, "phi": 47, "psi": 90.5}, {"id": "p", "level": 30, "phi": 43.5, "psi": 105.7}, {"id": "p", "level": 30, "phi": 44, "psi": 123.1}, {"id": "p", "level": 30, "phi": 48.6, "psi": 147.1},
      {"id": "q", "level": 40, "phi": 180, "psi": 171}, {"id": "q", "level": 40, "phi": 168.9, "psi": 168.8}, {"id": "q", "level": 40, "phi": 144.9, "psi": 168.8}, {"id": "q", "level": 40, "phi": 123.1, "psi": 170.1}, {"id": "q", "level": 40, "phi": 99.2, "psi": 171.9}, {"id": "q", "level": 40, "phi": 79.6, "psi": 175.3}, {"id": "q", "level": 40, "phi": 57.9, "psi": 176.2}, {"id": "q", "level": 40, "phi": 44.8, "psi": 171}, {"id": "q", "level": 40, "phi": 36.1, "psi": 160.1}, {"id": "q", "level": 40, "phi": 30.9, "psi": 144.9}, {"id": "q", "level": 40, "phi": 29.6, "psi": 123.1}, {"id": "q", "level": 40, "phi": 29.6, "psi": 101.4}, {"id": "q", "level": 40, "phi": 32.6, "psi": 86.1}, {"id": "q", "level": 40, "phi": 41.3, "psi": 74.4}, {"id": "q", "level": 40, "phi": 57.9, "psi": 64.4}, {"id": "q", "level": 40, "phi": 79.6, "psi": 57.9}, {"id": "q", "level": 40, "phi": 101.4, "psi": 51.3}, {"id": "q", "level": 40, "phi": 125.4, "psi": 42.6}, {"id": "q", "level": 40, "phi": 144.9, "psi": 36.1}, {"id": "q", "level": 40, "phi": 166.7, "psi": 29.6}, {"id": "q", "level": 40, "phi": 180, "psi": 26.5},
      {"id": "r", "level": 50, "phi": 44.8, "psi": 180}, {"id": "r", "level": 50, "phi": 29.6, "psi": 170.1}, {"id": "r", "level": 50, "phi": 19.6, "psi": 153.6}, {"id": "r", "level": 50, "phi": 14.4, "psi": 136.2}, {"id": "r", "level": 50, "phi": 13.5, "psi": 110.1}, {"id": "r", "level": 50, "phi": 17.9, "psi": 88.3}, {"id": "r", "level": 50, "phi": 26.5, "psi": 73.1}, {"id": "r", "level": 50, "phi": 40.5, "psi": 63.5}, {"id": "r", "level": 50, "phi": 62.2, "psi": 57}, {"id": "r", "level": 50, "phi": 88.3, "psi": 51.3}, {"id": "r", "level": 50, "phi": 110.1, "psi": 42.6}, {"id": "r", "level": 50, "phi": 131.8, "psi": 30.9}, {"id": "r", "level": 50, "phi": 153.6, "psi": 20.9}, {"id": "r", "level": 50, "phi": 180, "psi": 10},
      {"id": "s", "level": 30, "phi": 180, "psi": 157.9}, {"id": "s", "level": 30, "phi": 166.7, "psi": 151.4}, {"id": "s", "level": 30, "phi": 158, "psi": 140.5}, {"id": "s", "level": 30, "phi": 154.5, "psi": 123.1}, {"id": "s", "level": 30, "phi": 155.8, "psi": 107.9}, {"id": "s", "level": 30, "phi": 162.4, "psi": 97}, {"id": "s", "level": 30, "phi": 173.2, "psi": 90.5}, {"id": "s", "level": 30, "phi": 180, "psi": 89.2}
    ],
    "right_labels": [
      {"level": 40, "phi": -161.9, "psi": 155.8}, {"level": 30, "phi": -122.7, "psi": 162.3}, {"level": 40, "phi": -120.5, "psi": 149.2}, {"level": 10, "phi": -81.3, "psi": 164.5}, {"level": 20, "phi": -79.2, "psi": 151.4},
      {"level": 30, "phi": -37.9, "psi": 164.5}, {"level": 40, "phi": -31.3, "psi": 144.9}, {"level": 50, "phi": -109.6, "psi": 131.8}, {"level": 50, "phi": -18, "psi": 121},
      {"level": 20, "phi": -168.4, "psi": 118.8}, {"level": 30, "phi": -148.8, "psi": 112.2}, {"level": 40, "phi": -151, "psi": 70.9}, {"level": 50, "phi": -144.5, "psi": 62},
      {"level": 40, "phi": 42.6, "psi": 162}, {"level": 30, "phi": 53.5, "psi": 154}, {"level": 50, "phi": 15, "psi": 138.4}, {"level": 40, "phi": 99.2, "psi": 171}, {"level": 30, "phi": 101.4, "psi": 156},
      {"level": 20, "phi": 94.9, "psi": 133}, {"level": 20, "phi": 72, "psi": 88}, {"level": 30, "phi": 44, "psi": 99.2}, {"level": 40, "phi": 30.5, "psi": 90}, {"level": 50, "phi": 36.1, "psi": 66},
      {"level": 30, "phi": 134.5, "psi": 66}, {"level": 40, "phi": 125.4, "psi": 42.6}, {"level": 50, "phi": 131.8, "psi": 31}, {"level": 40, "phi": 164, "psi": 168.8}, {"level": 30, "phi": 163, "psi": 151}, {"level": 30, "phi": 155, "psi": 110.1},
      {"level": 50, "phi": -131.4, "psi": -133.7}, {"level": 40, "phi": -131.4, "psi": -151}, {"level": 30, "phi": -129.3, "psi": -164.1}, {"level": 20, "phi": -92.3, "psi": -146.7}, {"level": 10, "phi": -90.2, "psi": -156.3},
      {"level": 50, "phi": -55.3, "psi": -143}, {"level": 40, "phi": -53.2, "psi": -155.4}, {"level": 30, "phi": -51, "psi": -166.3}, {"level": 50, "phi": 116.9, "psi": -174}
    ]
  },
  "hconcat": [
    {
      "width": 276,
      "height": 270,
      "encoding": {
        "x": {"field": "phi", "type": "quantitative", "scale": {"domain": [-180, 180], "nice": false, "zero": false}, "axis": {"values": [-150, -100, -50, 0, 50, 100, 150], "title": "ϕ", "titlePadding": 11}}
      },
      "layer": [
        {"data": {"name": "left_halo"}, "mark": {"type": "line", "clip": true, "fill": "#a9a9f7", "fillOpacity": 0.4, "strokeWidth": 0}, "encoding": {"y": {"field": "psi", "type": "quantitative", "scale": {"domain": [-180, 180], "nice": false, "zero": false}, "axis": {"values": [-150, -100, -50, 0, 50, 100, 150], "title": "ψ", "titlePadding": 1}}, "detail": {"field": "cloud"}, "order": {"value": null}}},
        {"data": {"name": "left_core"}, "mark": {"type": "line", "clip": true, "fill": "#5b5bee", "fillOpacity": 1, "stroke": "#5b5bee", "strokeWidth": 1}, "encoding": {"y": {"field": "psi", "type": "quantitative", "scale": {"domain": [-180, 180], "nice": false, "zero": false}, "axis": {"values": [-150, -100, -50, 0, 50, 100, 150], "title": "ψ", "titlePadding": 1}}, "detail": {"field": "cloud"}, "order": {"value": null}}},
        {"data": {"name": "left_contours"}, "mark": {"type": "line", "clip": true, "strokeWidth": 1.3}, "encoding": {"y": {"field": "psi", "type": "quantitative", "scale": {"domain": [-180, 180], "nice": false, "zero": false}, "axis": {"values": [-150, -100, -50, 0, 50, 100, 150], "title": "ψ", "titlePadding": 1}}, "color": {"field": "level", "type": "nominal", "scale": {"domain": [10, 20, 30, 40, 50], "range": ["#2f2fb5", "#35a247", "#e6e635", "#e8993c", "#d4283f"]}, "legend": null}, "detail": {"field": "id"}, "order": {"value": null}}},
        {"data": {"name": "left_labels"}, "mark": {"type": "text", "clip": true, "fontSize": 8, "fill": "white", "stroke": "white", "strokeWidth": 3}, "encoding": {"y": {"field": "psi", "type": "quantitative", "scale": {"domain": [-180, 180], "nice": false, "zero": false}, "axis": {"values": [-150, -100, -50, 0, 50, 100, 150], "title": "ψ", "titlePadding": 1}}, "text": {"field": "level"}}},
        {"data": {"name": "left_labels"}, "mark": {"type": "text", "clip": true, "fontSize": 8, "fill": "#3a3a3a"}, "encoding": {"y": {"field": "psi", "type": "quantitative", "scale": {"domain": [-180, 180], "nice": false, "zero": false}, "axis": {"values": [-150, -100, -50, 0, 50, 100, 150], "title": "ψ", "titlePadding": 1}}, "text": {"field": "level"}}},
        {"data": {"name": "titles"}, "transform": [{"filter": {"and": [{"field": "panel", "equal": "L"}, {"field": "part", "equal": "name"}]}}], "mark": {"type": "text", "align": "left", "baseline": "middle", "font": "Lato", "fontSize": 11.5, "fill": "#262626"}, "encoding": {"y": {"datum": 197.2}, "text": {"field": "label"}}},
        {"data": {"name": "titles"}, "transform": [{"filter": {"and": [{"field": "panel", "equal": "L"}, {"field": "part", "equal": "prefix"}]}}], "mark": {"type": "text", "align": "left", "baseline": "middle", "font": "Lato", "fontSize": 11.5, "fontStyle": "italic", "fill": "#262626"}, "encoding": {"y": {"datum": 197.2}, "text": {"field": "label"}}},
        {"data": {"name": "titles"}, "transform": [{"filter": {"and": [{"field": "panel", "equal": "L"}, {"field": "part", "equal": "sulfate"}]}}], "mark": {"type": "text", "align": "left", "baseline": "middle", "font": "Lato", "fontSize": 11.5, "fontStyle": "italic", "fill": "#e4433b"}, "encoding": {"y": {"datum": 197.2}, "text": {"field": "label"}}},
        {"data": {"name": "titles"}, "transform": [{"filter": {"and": [{"field": "panel", "equal": "L"}, {"field": "part", "equal": "conformer"}]}}], "mark": {"type": "text", "align": "left", "baseline": "middle", "font": "Lato", "fontSize": 11.5, "fill": "#e4433b"}, "encoding": {"y": {"datum": 197.2}, "text": {"field": "label"}}}
      ]
    },
    {
      "width": 276,
      "height": 276,
      "encoding": {
        "x": {"field": "phi", "type": "quantitative", "scale": {"domain": [-180, 180], "nice": false, "zero": false}, "axis": {"values": [-150, -100, -50, 0, 50, 100, 150], "title": "ϕ", "titlePadding": 9}}
      },
      "layer": [
        {"data": {"name": "right_halo"}, "mark": {"type": "line", "clip": true, "fill": "#a9a9f7", "fillOpacity": 0.4, "strokeWidth": 0}, "encoding": {"y": {"field": "psi", "type": "quantitative", "scale": {"domain": [-180, 180], "nice": false, "zero": false}, "axis": {"values": [-150, -100, -50, 0, 50, 100, 150], "title": "ψ", "titlePadding": 5}}, "detail": {"field": "cloud"}, "order": {"value": null}}},
        {"data": {"name": "right_band"}, "mark": {"type": "line", "clip": true, "fill": "#7272f1", "fillOpacity": 1, "stroke": "#7272f1", "strokeWidth": 1}, "encoding": {"y": {"field": "psi", "type": "quantitative", "scale": {"domain": [-180, 180], "nice": false, "zero": false}, "axis": {"values": [-150, -100, -50, 0, 50, 100, 150], "title": "ψ", "titlePadding": 5}}, "detail": {"field": "cloud"}, "order": {"value": null}}},
        {"data": {"name": "right_core"}, "mark": {"type": "line", "clip": true, "fill": "#5b5bee", "fillOpacity": 1, "stroke": "#5b5bee", "strokeWidth": 1}, "encoding": {"y": {"field": "psi", "type": "quantitative", "scale": {"domain": [-180, 180], "nice": false, "zero": false}, "axis": {"values": [-150, -100, -50, 0, 50, 100, 150], "title": "ψ", "titlePadding": 5}}, "detail": {"field": "cloud"}, "order": {"value": null}}},
        {"data": {"name": "right_contours"}, "mark": {"type": "line", "clip": true, "strokeWidth": 1.3}, "encoding": {"y": {"field": "psi", "type": "quantitative", "scale": {"domain": [-180, 180], "nice": false, "zero": false}, "axis": {"values": [-150, -100, -50, 0, 50, 100, 150], "title": "ψ", "titlePadding": 5}}, "color": {"field": "level", "type": "nominal", "scale": {"domain": [10, 20, 30, 40, 50], "range": ["#2f2fb5", "#35a247", "#e6e635", "#e8993c", "#d4283f"]}, "legend": null}, "detail": {"field": "id"}, "order": {"value": null}}},
        {"data": {"name": "right_labels"}, "mark": {"type": "text", "clip": true, "fontSize": 8, "fill": "white", "stroke": "white", "strokeWidth": 3}, "encoding": {"y": {"field": "psi", "type": "quantitative", "scale": {"domain": [-180, 180], "nice": false, "zero": false}, "axis": {"values": [-150, -100, -50, 0, 50, 100, 150], "title": "ψ", "titlePadding": 5}}, "text": {"field": "level"}}},
        {"data": {"name": "right_labels"}, "mark": {"type": "text", "clip": true, "fontSize": 8, "fill": "#3a3a3a"}, "encoding": {"y": {"field": "psi", "type": "quantitative", "scale": {"domain": [-180, 180], "nice": false, "zero": false}, "axis": {"values": [-150, -100, -50, 0, 50, 100, 150], "title": "ψ", "titlePadding": 5}}, "text": {"field": "level"}}},
        {"data": {"name": "titles"}, "transform": [{"filter": {"and": [{"field": "panel", "equal": "R"}, {"field": "part", "equal": "name"}]}}], "mark": {"type": "text", "align": "left", "baseline": "middle", "font": "Lato", "fontSize": 11.5, "fill": "#262626"}, "encoding": {"y": {"datum": 194.5}, "text": {"field": "label"}}},
        {"data": {"name": "titles"}, "transform": [{"filter": {"and": [{"field": "panel", "equal": "R"}, {"field": "part", "equal": "prefix"}]}}], "mark": {"type": "text", "align": "left", "baseline": "middle", "font": "Lato", "fontSize": 11.5, "fontStyle": "italic", "fill": "#262626"}, "encoding": {"y": {"datum": 194.5}, "text": {"field": "label"}}},
        {"data": {"name": "titles"}, "transform": [{"filter": {"and": [{"field": "panel", "equal": "R"}, {"field": "part", "equal": "sulfate"}]}}], "mark": {"type": "text", "align": "left", "baseline": "middle", "font": "Lato", "fontSize": 11.5, "fontStyle": "italic", "fill": "#e4433b"}, "encoding": {"y": {"datum": 194.5}, "text": {"field": "label"}}},
        {"data": {"name": "titles"}, "transform": [{"filter": {"and": [{"field": "panel", "equal": "R"}, {"field": "part", "equal": "conformer"}]}}], "mark": {"type": "text", "align": "left", "baseline": "middle", "font": "Lato", "fontSize": 11.5, "fill": "#e4433b"}, "encoding": {"y": {"datum": 194.5}, "text": {"field": "label"}}}
      ]
    }
  ]
}
